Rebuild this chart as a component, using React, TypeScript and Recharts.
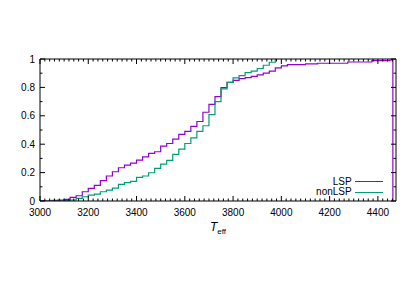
import React from "react";
import { LineChart, Line, XAxis, YAxis } from "recharts";

// cumulative fraction of stars below Teff
const lspT = [
  3000, 3050, 3075, 3100, 3125, 3150, 3175, 3200, 3225, 3250, 3275, 3300, 3325, 3350, 3375, 3400,
  3425, 3450, 3475, 3500, 3525, 3550, 3575, 3600, 3625, 3650, 3675, 3700, 3725, 3750, 3775, 3800,
  3825, 3850, 3875, 3900, 3925, 3950, 3975, 4000, 4025, 4100, 4150, 4275, 4375, 4450, 4462,
];
const lspF = [
  0, 0.004, 0.006, 0.012, 0.026, 0.037, 0.065, 0.089, 0.11, 0.143, 0.176, 0.206, 0.234, 0.253, 0.267, 0.288,
  0.311, 0.335, 0.347, 0.386, 0.405, 0.436, 0.469, 0.49, 0.525, 0.56, 0.625, 0.68, 0.735, 0.798, 0.835, 0.85,
  0.862, 0.869, 0.878, 0.888, 0.9, 0.914, 0.938, 0.952, 0.961, 0.965, 0.97, 0.979, 0.988, 0.993, 0,
];

const nonT = [
  3000, 3100, 3125, 3150, 3175, 3200, 3225, 3250, 3275, 3300, 3325, 3350, 3375, 3400, 3425, 3450,
  3475, 3500, 3525, 3550, 3575, 3600, 3625, 3650, 3675, 3700, 3725, 3750, 3775, 3800, 3825, 3850,
  3875, 3900, 3925, 3950, 3975,
];
const nonF = [
  0, 0.003, 0.007, 0.019, 0.03, 0.042, 0.049, 0.065, 0.077, 0.091, 0.117, 0.129, 0.138, 0.166, 0.176, 0.199,
  0.23, 0.26, 0.286, 0.328, 0.365, 0.405, 0.445, 0.49, 0.53, 0.608, 0.7, 0.79, 0.836, 0.867, 0.883, 0.904,
  0.914, 0.933, 0.956, 0.977, 1,
];

const lspData = lspT.map((t, i) => ({ t, f: lspF[i] }));
const nonData = nonT.map((t, i) => ({ t, f: nonF[i] }));

const xTicks: number[] = [];
for (let v = 3000; v <= 4460; v += 20) xTicks.push(v);
const yTicks: number[] = [];
for (let i = 0; i <= 10; i++) yTicks.push(i / 10);

const FONT = "'Liberation Sans', Arial, sans-serif";
const PURPLE = "#9400d3";
const GREEN = "#009e73";

const xTick = (side: "bottom" | "top") => (props: any) => {
  const { x, y, payload } = props;
  const v = payload.value;
  const major = v % 200 === 0;
  const len = major ? 5 : 2.5;
  const dir = side === "bottom" ? -1 : 1;
  return (
    <g>
      <line x1={x} x2={x} y1={y} y2={y + dir * len} stroke="#000" strokeWidth={1} />
      {side === "bottom" && major && (
        <text x={x} y={y + 15} textAnchor="middle" fontSize={10} fontFamily={FONT} fill="#000">
          {v}
        </text>
      )}
    </g>
  );
};

const yTick = (side: "left" | "right") => (props: any) => {
  const { x, y, payload } = props;
  const v = payload.value;
  const k = Math.round(v * 10);
  const major = k % 2 === 0;
  const len = major ? 5 : 2.5;
  const dir = side === "left" ? 1 : -1;
  const label = k === 0 ? "0" : k === 10 ? "1" : v.toFixed(1);
  return (
    <g>
      <line x1={x} x2={x + dir * len} y1={y} y2={y} stroke="#000" strokeWidth={1} />
      {side === "left" && major && (
        <text x={x - 5} y={y} dy="0.35em" textAnchor="end" fontSize={10} fontFamily={FONT} fill="#000">
          {label}
        </text>
      )}
    </g>
  );
};

const legendRows = [
  { name: "LSP", color: PURPLE, top: 173.7 },
  { name: "nonLSP", color: GREEN, top: 184.3 },
];

export default function App() {
  return (
    <div style={{ position: "relative", width: 400, height: 275 }}>
      <LineChart width={400} height={275} margin={{ top: 41, right: 2, bottom: 42, left: 0 }}>
        <XAxis
          xAxisId="bottom"
          type="number"
          dataKey="t"
          domain={[3000, 4475]}
          ticks={xTicks}
          interval={0}
          height={40}
          tickSize={0}
          tickMargin={0}
          tickLine={false}
          axisLine={{ stroke: "#000" }}
          tick={xTick("bottom")}
          allowDataOverflow
        />
        <XAxis
          xAxisId="top"
          orientation="top"
          type="number"
          dataKey="t"
          domain={[3000, 4475]}
          ticks={xTicks}
          interval={0}
          height={10}
          tickSize={0}
          tickMargin={0}
          tickLine={false}
          axisLine={{ stroke: "#000" }}
          tick={xTick("top")}
          allowDataOverflow
        />
        <YAxis
          yAxisId="left"
          type="number"
          domain={[0, 1]}
          ticks={yTicks}
          interval={0}
          width={32}
          tickSize={0}
          tickMargin={0}
          tickLine={false}
          axisLine={{ stroke: "#000" }}
          tick={yTick("left")}
          allowDataOverflow
        />
        <YAxis
          yAxisId="right"
          orientation="right"
          type="number"
          domain={[0, 1]}
          ticks={yTicks}
          interval={0}
          width={10}
          tickSize={0}
          tickMargin={0}
          tickLine={false}
          axisLine={{ stroke: "#000" }}
          tick={yTick("right")}
          allowDataOverflow
        />
        <Line
          xAxisId="bottom"
          yAxisId="left"
          data={lspData}
          dataKey="f"
          type="stepAfter"
          stroke={PURPLE}
          strokeWidth={1.2}
          dot={false}
          isAnimationActive={false}
        />
        <Line
          xAxisId="bottom"
          yAxisId="left"
          data={nonData}
          dataKey="f"
          type="stepAfter"
          stroke={GREEN}
          strokeWidth={1.2}
          dot={false}
          isAnimationActive={false}
        />
      </LineChart>

      {legendRows.map((r) => (
        <React.Fragment key={r.name}>
          <div
            style={{
              position: "absolute",
              right: 56.3,
              top: r.top - 6,
              lineHeight: "12px",
              fontSize: 10,
              fontFamily: FONT,
              color: "#000",
            }}
          >
            {r.name}
          </div>
          <div
            style={{
              position: "absolute",
              left: 347,
              width: 28,
              top: r.top - 0.75,
              borderTop: `1.5px solid ${r.color}`,
            }}
          />
        </React.Fragment>
      ))}

      <div
        style={{
          position: "absolute",
          left: 202,
          top: 212,
          fontFamily: FONT,
          fontSize: 12,
          lineHeight: "14px",
          color: "#000",
          whiteSpace: "nowrap",
        }}
      >
        <i>T</i>
        <span style={{ fontSize: 8, position: "relative", top: 3 }}>eff</span>
      </div>
    </div>
  );
}
